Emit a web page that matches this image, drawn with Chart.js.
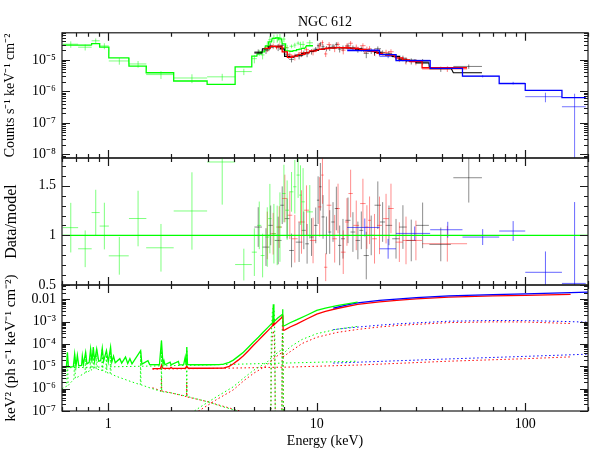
<!DOCTYPE html>
<html lang="en">
<head>
<meta charset="UTF-8" />
<title>NGC 612</title>
<script src="https://cdn.jsdelivr.net/npm/chart.js"></script>
<style>
  body { margin: 0; background: #fff; }
  #wrap { position: relative; width: 598px; height: 462px; }
  #wrap canvas { position: absolute; left: 0; top: 0; }
</style>
</head>
<body>
<div id="wrap">
  <canvas id="cnt" width="598" height="462"></canvas>
  <canvas id="rat" width="598" height="462"></canvas>
  <canvas id="euf" width="598" height="462"></canvas>
</div>
<script>
// ---- data ----
// pn (green): bin centre, half width (keV), folded model, data/model, error on ratio
const pnE   = [0.661, 0.775, 0.871, 0.958, 1.13, 1.39, 1.79, 2.52, 3.52, 4.47, 5.02, 5.30, 5.50, 5.79, 5.96, 6.23, 6.46, 6.66, 6.96, 7.21, 7.57, 7.85, 8.14, 8.36, 8.60, 9.26];
const pnW   = [0.056, 0.058, 0.039, 0.049, 0.124, 0.133, 0.27, 0.46, 0.54, 0.41, 0.14, 0.12, 0.12, 0.12, 0.11, 0.12, 0.11, 0.12, 0.13, 0.15, 0.16, 0.14, 0.14, 0.12, 0.16, 0.33];
const pnMod = [2.91e-5, 2.91e-5, 3.27e-5, 2.52e-5, 1.16e-5, 6.33e-6, 3.89e-6, 2.13e-6, 1.66e-6, 6.0e-6, 1.31e-5, 1.55e-5, 1.79e-5, 2.76e-5, 3.7e-5, 4.77e-5, 4.95e-5, 4.6e-5, 3.2e-5, 1.92e-5, 1.87e-5, 1.97e-5, 2.1e-5, 2.19e-5, 2.3e-5, 2.8e-5];
const pnRat = [1.078, 0.865, 1.23, 1.094, 0.794, 1.17, 0.875, 1.246, 1.74, 0.706, 0.831, 1.101, 0.797, 0.983, 1.169, 1.017, 1.0, 1.084, 1.422, 1.254, 1.439, 1.49, 1.608, 1.406, 1.338, 1.237];
const pnErr = [0.25, 0.185, 0.23, 0.235, 0.19, 0.28, 0.24, 0.39, 0.43, 0.16, 0.24, 0.24, 0.22, 0.3, 0.35, 0.3, 0.3, 0.35, 0.29, 0.3, 0.2, 0.27, 0.23, 0.3, 0.34, 0.27];

// FPMA (black)
const faE   = [5.24, 5.71, 6.01, 6.53, 6.83, 7.21, 7.57, 8.23, 8.67, 8.99, 9.44, 9.89, 10.15, 10.41, 10.72, 11.13, 11.54, 11.97, 12.42, 12.88, 13.36, 14.12, 14.91, 15.75, 16.36, 17.28, 18.25, 19.63, 20.7, 22.2, 24.0, 25.9, 28.4, 32.2, 39.35, 53.6];
const faW   = [0.22, 0.22, 0.15, 0.25, 0.15, 0.2, 0.2, 0.3, 0.2, 0.18, 0.22, 0.2, 0.13, 0.14, 0.18, 0.2, 0.2, 0.22, 0.22, 0.23, 0.3, 0.4, 0.4, 0.4, 0.35, 0.5, 0.6, 0.7, 0.6, 0.8, 1.0, 1.1, 1.5, 2.3, 4.65, 8.4];
const faMod = [1.66e-5, 2.22e-5, 2.57e-5, 2.67e-5, 2.22e-5, 1.29e-5, 1.22e-5, 1.41e-5, 1.57e-5, 1.69e-5, 1.85e-5, 1.99e-5, 2.07e-5, 2.14e-5, 2.19e-5, 2.29e-5, 2.36e-5, 2.39e-5, 2.43e-5, 2.44e-5, 2.44e-5, 2.39e-5, 2.31e-5, 2.22e-5, 2.14e-5, 2.02e-5, 1.92e-5, 1.72e-5, 1.49e-5, 1.44e-5, 1.29e-5, 1.04e-5, 9.6e-6, 8.0e-6, 5.6e-6, 3.9e-6];
const faRat = [1.084, 0.882, 1.101, 0.949, 1.304, 1.169, 0.848, 0.932, 1.051, 0.915, 0.983, 1.101, 1.355, 1.49, 1.186, 1.0, 1.034, 1.135, 1.271, 0.899, 0.966, 1.152, 1.034, 0.949, 1.051, 0.797, 1.0, 1.304, 1.135, 1.101, 0.966, 1.084, 0.949, 1.101, 0.909, 1.581];
const faErr = [0.2, 0.19, 0.2, 0.24, 0.19, 0.2, 0.17, 0.2, 0.19, 0.2, 0.19, 0.18, 0.24, 0.24, 0.22, 0.19, 0.22, 0.2, 0.22, 0.2, 0.2, 0.23, 0.2, 0.19, 0.19, 0.24, 0.2, 0.24, 0.2, 0.2, 0.2, 0.22, 0.21, 0.23, 0.17, 0.25];

// FPMB (red)
const fbE   = [5.79, 6.18, 6.61, 7.03, 7.43, 7.85, 8.45, 8.93, 9.60, 10.33, 10.65, 11.04, 11.46, 12.19, 12.65, 13.40, 13.96, 14.54, 15.47, 16.65, 17.40, 17.92, 18.93, 20.0, 21.5, 22.7, 24.9, 26.8, 29.9, 42.3];
const fbW   = [0.19, 0.2, 0.21, 0.2, 0.2, 0.25, 0.3, 0.25, 0.35, 0.2, 0.15, 0.2, 0.3, 0.3, 0.25, 0.35, 0.3, 0.35, 0.5, 0.5, 0.3, 0.3, 0.5, 0.55, 0.7, 0.7, 1.0, 1.0, 2.1, 10.3];
const fbMod = [2.31e-5, 2.69e-5, 2.57e-5, 1.79e-5, 1.20e-5, 1.31e-5, 1.49e-5, 1.66e-5, 1.92e-5, 2.14e-5, 2.19e-5, 2.27e-5, 2.34e-5, 2.41e-5, 2.43e-5, 2.44e-5, 2.41e-5, 2.36e-5, 2.26e-5, 2.13e-5, 2.01e-5, 1.95e-5, 1.85e-5, 1.60e-5, 1.47e-5, 1.42e-5, 1.16e-5, 1.0e-5, 8.96e-6, 5.6e-6];
const fbRat = [1.0, 1.017, 1.084, 1.372, 1.203, 0.966, 1.135, 1.254, 0.949, 1.287, 1.608, 0.679, 1.304, 0.966, 1.271, 0.831, 1.135, 1.422, 1.101, 1.321, 1.084, 1.152, 0.966, 1.101, 1.169, 1.271, 0.932, 0.949, 0.949, 0.916];
const fbErr = [0.24, 0.21, 0.21, 0.24, 0.24, 0.24, 0.32, 0.25, 0.23, 0.3, 0.29, 0.14, 0.26, 0.24, 0.25, 0.22, 0.24, 0.24, 0.25, 0.25, 0.22, 0.24, 0.25, 0.29, 0.25, 0.25, 0.2, 0.24, 0.2, 0.18];

// BAT (blue)
const batE   = [17, 22, 29.5, 42.5, 62.5, 87.5, 125, 172.5];
const batW   = [3, 2, 5.5, 7.5, 12.5, 12.5, 25, 22.5];
const batMod = [1.96e-5, 1.47e-5, 9.5e-6, 5.32e-6, 3.06e-6, 1.75e-6, 1.08e-6, 6.3e-7];
const batRat = [1.08, 0.865, 1.02, 1.057, 0.983, 1.044, 0.628, 0.516];
const batErr = [0.09, 0.1, 0.07, 0.08, 0.08, 0.1, 0.21, 0.82];

// unfolded model, keV^2 (ph s^-1 keV^-1 cm^-2): [E, value]
const pnTot = [[0.6, 9.0e-6], [0.63, 9.1e-6], [0.637, 4.3e-5], [0.644, 9.2e-6], [0.68, 9.6e-6], [0.69, 3.6e-5], [0.70, 1.0e-5],
  [0.711, 3.1e-5], [0.722, 1.05e-5], [0.745, 1.1e-5], [0.751, 2.85e-5], [0.76, 1.2e-5], [0.779, 4.3e-5], [0.79, 1.3e-5],
  [0.81, 1.5e-5], [0.823, 6.0e-5], [0.835, 1.6e-5], [0.848, 7.2e-5], [0.86, 1.7e-5], [0.88, 6.0e-5], [0.90, 1.7e-5],
  [0.92, 1.8e-5], [0.936, 6.5e-5], [0.95, 1.7e-5], [0.98, 5.1e-5], [1.0, 1.6e-5], [1.026, 7.2e-5], [1.04, 1.55e-5],
  [1.06, 2.85e-5], [1.08, 1.45e-5], [1.136, 2.2e-5], [1.16, 1.4e-5], [1.21, 2.6e-5], [1.24, 1.35e-5], [1.27, 2.2e-5],
  [1.30, 1.3e-5], [1.43, 5.1e-5], [1.45, 1.25e-5], [1.55, 1.8e-5], [1.58, 1.2e-5], [1.76, 1.18e-5], [1.80, 1.44e-4],
  [1.83, 1.2e-5], [1.85, 1.8e-5], [1.87, 1.18e-5], [1.98, 1.55e-5], [2.0, 1.17e-5], [2.17, 1.66e-5], [2.19, 1.17e-5],
  [2.30, 1.2e-5], [2.34, 2.6e-5], [2.36, 1.2e-5], [2.38, 7.2e-5], [2.40, 1.2e-5], [2.6, 1.18e-5], [3.0, 1.18e-5],
  [3.4, 1.2e-5], [3.57, 1.25e-5], [3.8, 1.5e-5], [3.98, 1.9e-5], [4.2, 2.8e-5], [4.45, 4.3e-5], [4.7, 7.2e-5],
  [4.96, 1.2e-4], [5.25, 2.0e-4], [5.53, 3.35e-4], [5.85, 5.7e-4], [6.15, 9.3e-4], [6.19, 6.0e-3], [6.23, 1.0e-3],
  [6.5, 1.45e-3], [6.78, 2.0e-3], [6.84, 2.1e-3], [6.86, 3.6e-3], [6.88, 2.15e-3], [6.9, 6.5e-4], [7.0, 6.6e-4],
  [7.45, 9.0e-4], [8.0, 1.2e-3], [9.0, 2.0e-3], [10, 3.2e-3], [11, 4.1e-3], [12.5, 5.3e-3], [15.7, 7.6e-3]];
const fbTot = [[1.63, 7.9e-6], [1.78, 8.0e-6], [1.80, 1.1e-5], [1.83, 8.1e-6], [1.98, 8.1e-6], [2.0, 9.0e-6], [2.03, 8.1e-6],
  [2.34, 8.2e-6], [2.38, 1.0e-5], [2.42, 8.2e-6], [3.0, 8.2e-6], [3.57, 8.4e-6], [3.8, 1.0e-5], [3.98, 1.3e-5],
  [4.2, 1.9e-5], [4.45, 3.0e-5], [4.7, 5.0e-5], [4.96, 8.6e-5], [5.25, 1.45e-4], [5.53, 2.4e-4], [5.85, 4.1e-4],
  [6.15, 6.7e-4], [6.19, 1.3e-3], [6.23, 7.2e-4], [6.5, 1.05e-3], [6.78, 1.5e-3], [6.86, 1.9e-3], [6.88, 1.6e-3],
  [6.9, 4.1e-4], [7.0, 4.2e-4], [7.45, 5.8e-4], [8.0, 7.8e-4], [9.0, 1.35e-3], [10, 2.2e-3], [11, 2.9e-3],
  [12.5, 3.9e-3], [15.7, 6.0e-3], [20, 7.8e-3], [25, 9.2e-3], [30, 1.05e-2], [43, 1.25e-2], [70, 1.42e-2],
  [100, 1.52e-2], [165, 1.67e-2]];
const batTot = [[12, 4.1e-3], [14, 5.7e-3], [15.7, 6.9e-3], [20, 9.0e-3], [25, 1.06e-2], [30, 1.2e-2], [43, 1.44e-2],
  [70, 1.63e-2], [100, 1.76e-2], [150, 1.95e-2], [200, 2.12e-2]];

// model components (dotted)
const pnScat  = [[0.6, 8.6e-6], [2.5, 1.12e-5], [7, 1.4e-5], [15.7, 1.7e-5]];
const fbScat  = [[1.63, 7.5e-6], [3.5, 8.2e-6], [7.45, 9.3e-6], [16, 1.15e-5], [43, 1.7e-5], [100, 2.2e-5], [165, 2.65e-5]];
const batScat = [[12, 1.4e-5], [40, 2.1e-5], [100, 2.8e-5], [200, 3.5e-5]];
const pnRefl  = [[2.5, 8e-8], [2.76, 1.5e-7], [3.3, 4.3e-7], [3.97, 1.2e-6], [4.5, 3.2e-6], [5.0, 6.8e-6], [5.76, 1.5e-5],
  [6.2, 3.0e-5], [6.66, 4.9e-5], [6.86, 5.7e-5], [6.88, 3.5e-5], [7.45, 7.4e-5], [8.5, 1.6e-4], [10, 2.9e-4],
  [12.5, 4.6e-4], [15.7, 6.2e-4]];
const fbRefl  = [[2.6, 8e-8], [2.76, 1.1e-7], [3.3, 3.2e-7], [3.97, 8.7e-7], [4.5, 2.4e-6], [5.0, 5.0e-6], [5.76, 1.1e-5],
  [6.2, 2.2e-5], [6.66, 3.6e-5], [6.86, 4.2e-5], [6.88, 2.6e-5], [7.45, 4.5e-5], [8.5, 1.05e-4], [10, 2.0e-4],
  [12.5, 3.3e-4], [15.7, 4.5e-4], [20, 5.8e-4], [25, 6.9e-4], [43, 9.1e-4], [70, 9.8e-4], [100, 9.7e-4], [165, 8.3e-4]];
const batRefl = [[12, 4.4e-4], [14, 5.2e-4], [20, 7.0e-4], [25, 8.1e-4], [43, 1.05e-3], [70, 1.13e-3], [100, 1.12e-3],
  [150, 1.03e-3], [200, 9.5e-4]];
const pnSoft  = [[0.6, 1.0e-6], [0.632, 1.3e-6], [0.637, 4.2e-5], [0.642, 1.4e-6], [0.685, 2.7e-6], [0.69, 3.5e-5],
  [0.695, 2.9e-6], [0.774, 5.0e-6], [0.779, 4.2e-5], [0.784, 5.2e-6], [0.818, 6.5e-6], [0.823, 5.9e-5], [0.828, 6.8e-6],
  [0.843, 7.4e-6], [0.848, 7.1e-5], [0.853, 7.7e-6], [0.875, 7.8e-6], [0.88, 5.9e-5], [0.885, 7.6e-6], [0.931, 6.4e-6],
  [0.936, 6.4e-5], [0.941, 6.2e-6], [0.975, 5.5e-6], [0.98, 5.0e-5], [0.985, 5.3e-6], [1.021, 4.6e-6], [1.026, 7.1e-5],
  [1.031, 4.5e-6], [1.1, 3.5e-6], [1.3, 2.0e-6], [1.425, 1.5e-6], [1.43, 5.0e-5], [1.435, 1.5e-6], [1.6, 1.05e-6],
  [1.795, 7.5e-7], [1.80, 1.4e-4], [1.805, 7.4e-7], [2.0, 6.5e-7], [2.375, 4.6e-7], [2.38, 7.0e-5], [2.385, 4.5e-7],
  [3.0, 2.6e-7], [3.5, 1.6e-7], [4.2, 1.0e-7], [4.8, 6e-8]];
const fbSoft  = [[1.63, 1.1e-6], [1.795, 8.0e-7], [1.80, 3.2e-6], [1.805, 7.9e-7], [2.0, 6.5e-7], [2.375, 4.4e-7],
  [2.38, 2.0e-6], [2.385, 4.3e-7], [3.0, 2.6e-7], [3.5, 1.7e-7], [4.3, 1.0e-7], [5.0, 7e-8]];
const pnFe = [[6.02, 1e-8], [6.05, 2e-4], [6.12, 2.5e-3], [6.19, 5e-3], [6.26, 2.5e-3], [6.30, 1e-4], [6.33, 1e-8],
  [6.80, 1e-8], [6.83, 5e-4], [6.86, 1.5e-3], [6.89, 5e-4], [6.92, 1e-8]];
const fbFe = [[6.02, 1e-8], [6.05, 1.5e-5], [6.12, 2e-4], [6.19, 4e-4], [6.26, 2e-4], [6.30, 1e-5], [6.33, 1e-8],
  [6.80, 1e-8], [6.83, 1e-4], [6.86, 3e-4], [6.89, 1e-4], [6.92, 1e-8]];

// axis ticks and labels
const eTickVals   = [1, 10, 100];
const eTickText   = ['1', '10', '100'];
const cntTickVals = [1e-8, 1e-7, 1e-6, 1e-5];
const cntTickText = ['10\u207B\u2078', '10\u207B\u2077', '10\u207B\u2076', '10\u207B\u2075'];
const ratTickVals = [0.5, 1, 1.5];
const ratTickText = ['0.5', '1', '1.5'];
const eufTickVals = [1e-7, 1e-6, 1e-5, 1e-4, 1e-3, 1e-2];
const eufTickText = ['10\u207B\u2077', '10\u207B\u2076', '10\u207B\u2075', '10\u207B\u2074', '10\u207B\u00B3', '0.01'];

// ---- helpers ----
const GREEN = '#00ff00', RED = '#ff0000', BLUE = '#0000ff', BLACK = '#000000';
const xy = a => a.map(([x, y]) => ({x, y}));

function crosses(E, W, mod, rat, err, onRatio) {
  const pts = [];
  for (let i = 0; i < E.length; i++) {
    const m = onRatio ? 1 : mod[i];
    const v = rat[i] * m, d = err[i] * m;
    const lo = onRatio ? v - d : Math.max(v - d, 1e-12);
    pts.push({x: E[i] - W[i], y: v}, {x: E[i] + W[i], y: v}, {x: E[i], y: null});
    pts.push({x: E[i], y: lo}, {x: E[i], y: v + d}, {x: E[i], y: null});
  }
  return pts;
}
function steps(E, W, mod) {
  const pts = [];
  E.forEach((e, i) => pts.push({x: e - W[i], y: mod[i]}, {x: e + W[i], y: mod[i]}));
  return pts;
}
const line = (data, color, width, dash) => ({
  data, borderColor: color, borderWidth: width, borderDash: dash || [],
  pointRadius: 0, fill: false, tension: 0, spanGaps: false
});

function logTicks(min, max) {
  const out = [];
  for (let e = Math.floor(Math.log10(min)); e <= Math.ceil(Math.log10(max)); e++) {
    for (let k = 1; k <= 9; k++) {
      const v = k * Math.pow(10, e);
      if (v >= min * 0.999 && v <= max * 1.001) out.push({v, major: k === 1});
    }
  }
  return out;
}
function linTicks(min, max) {
  const out = [];
  for (let i = Math.ceil(min * 10); i <= Math.floor(max * 10); i++) out.push({v: i / 10, major: i % 5 === 0});
  return out;
}

// inward ticks on all four sides, like the original plotting package
const frame = {
  id: 'frame',
  afterDatasetsDraw(chart) {
    const {ctx, chartArea: a, scales: {x, y}} = chart;
    ctx.save();
    ctx.strokeStyle = '#1a1a1a';
    ctx.lineWidth = 1.2;
    ctx.beginPath();
    for (const t of logTicks(x.min, x.max)) {
      const px = Math.round(x.getPixelForValue(t.v)) + 0.5, len = t.major ? 8 : 4;
      ctx.moveTo(px, a.bottom); ctx.lineTo(px, a.bottom - len);
      ctx.moveTo(px, a.top); ctx.lineTo(px, a.top + len);
    }
    const yt = y.type === 'logarithmic' ? logTicks(y.min, y.max) : linTicks(y.min, y.max);
    for (const t of yt) {
      const py = Math.round(y.getPixelForValue(t.v)) + 0.5, len = t.major ? 8 : 4;
      ctx.moveTo(a.left, py); ctx.lineTo(a.left + len, py);
      ctx.moveTo(a.right, py); ctx.lineTo(a.right - len, py);
    }
    ctx.stroke();
    ctx.strokeRect(a.left, a.top, a.right - a.left, a.bottom - a.top);
    ctx.restore();
  }
};

Chart.defaults.font.family = "'Liberation Serif', 'Times New Roman', serif";
Chart.defaults.font.size = 14;
Chart.defaults.color = '#000';

const hiddenX = { type: 'logarithmic', min: 0.6, max: 200, display: false };
function yAxis(type, min, max, vals, text, title, titleSize, titlePad) {
  return {
    type, min, max,
    afterFit: s => { s.width = 62; },
    afterBuildTicks: s => { s.ticks = vals.map(v => ({value: v})); },
    grid: { display: false, drawTicks: false },
    border: { display: false },
    ticks: { callback: (v, i) => text[i], padding: 6, autoSkip: false },
    title: { display: true, text: title, font: {size: titleSize}, padding: {top: titlePad, bottom: 0} }
  };
}
const base = (padding, scales, extraPlugins) => ({
  responsive: false,
  animation: false,
  layout: { padding },
  scales,
  plugins: Object.assign({ legend: {display: false}, tooltip: {enabled: false} }, extraPlugins || {})
});

// ---- top: folded counts ----
new Chart(document.getElementById('cnt'), {
  type: 'line',
  data: { datasets: [
    line(steps(batE, batW, batMod), BLUE, 1.3),
    line(steps(fbE, fbW, fbMod), RED, 1.3),
    line(steps(faE, faW, faMod), BLACK, 1.1),
    line(steps(pnE, pnW, pnMod), GREEN, 1.3),
    line(crosses(batE, batW, batMod, batRat, batErr, false), 'rgba(0,0,255,0.55)', 1),
    line(crosses(fbE, fbW, fbMod, fbRat, fbErr, false), 'rgba(255,0,0,0.5)', 1),
    line(crosses(faE, faW, faMod, faRat, faErr, false), 'rgba(0,0,0,0.5)', 1),
    line(crosses(pnE, pnW, pnMod, pnRat, pnErr, false), 'rgba(0,255,0,0.5)', 1)
  ]},
  options: base({top: 0, right: 10, bottom: 304, left: 0},
    { x: hiddenX, y: yAxis('logarithmic', 7.7e-9, 7.2e-5, cntTickVals, cntTickText, 'Counts s\u207B\u00B9 keV\u207B\u00B9 cm\u207B\u00B2', 14, 2) },
    { title: { display: true, text: 'NGC 612', fullSize: false, padding: {top: 14, bottom: 2}, font: {size: 14, weight: 'normal'}, color: '#000' } }),
  plugins: [frame]
});

// ---- middle: data/model ----
new Chart(document.getElementById('rat'), {
  type: 'line',
  data: { datasets: [
    line(xy([[0.6, 1], [200, 1]]), GREEN, 1.3),
    line(crosses(batE, batW, null, batRat, batErr, true), 'rgba(0,0,255,0.6)', 1),
    line(crosses(pnE, pnW, null, pnRat, pnErr, true), 'rgba(0,255,0,0.5)', 1),
    line(crosses(fbE, fbW, null, fbRat, fbErr, true), 'rgba(255,0,0,0.45)', 1),
    line(crosses(faE, faW, null, faRat, faErr, true), 'rgba(0,0,0,0.45)', 1)
  ]},
  options: base({top: 158, right: 10, bottom: 177, left: 0},
    { x: hiddenX, y: yAxis('linear', 0.5, 1.78, ratTickVals, ratTickText, 'Data/model', 16, 2) }),
  plugins: [frame]
});

// ---- bottom: unfolded model ----
const dot = [1.5, 2.5];
new Chart(document.getElementById('euf'), {
  type: 'line',
  data: { datasets: [
    line(xy(pnTot), GREEN, 1.3),
    line(xy(batTot), BLUE, 1.3),
    line(xy(fbTot), RED, 1.3),
    line(xy(pnSoft), GREEN, 1, dot),
    line(xy(fbSoft), RED, 1, dot),
    line(xy(pnRefl), GREEN, 1, dot),
    line(xy(fbRefl), RED, 1, dot),
    line(xy(batRefl), BLUE, 1, dot),
    line(xy(pnScat), GREEN, 1, dot),
    line(xy(fbScat), RED, 1, dot),
    line(xy(batScat), BLUE, 1, dot),
    line(xy(pnFe), GREEN, 1, dot),
    line(xy(fbFe), '#b03000', 1, dot)
  ]},
  options: base({top: 285, right: 10, bottom: 0, left: 0}, {
    x: {
      type: 'logarithmic', min: 0.6, max: 200,
      afterFit: s => { s.height = 51; },
      afterBuildTicks: s => { s.ticks = eTickVals.map(v => ({value: v})); },
      grid: { display: false, drawTicks: false },
      border: { display: false },
      ticks: { callback: (v, i) => eTickText[i], padding: 5, maxRotation: 0, autoSkip: false },
      title: { display: true, text: 'Energy (keV)', padding: {top: 0, bottom: 12} }
    },
    y: yAxis('logarithmic', 1e-7, 0.044, eufTickVals, eufTickText, 'keV\u00B2 (ph s\u207B\u00B9 keV\u207B\u00B9 cm\u207B\u00B2)', 15, 2)
  }),
  plugins: [frame]
});
</script>
</body>
</html>
